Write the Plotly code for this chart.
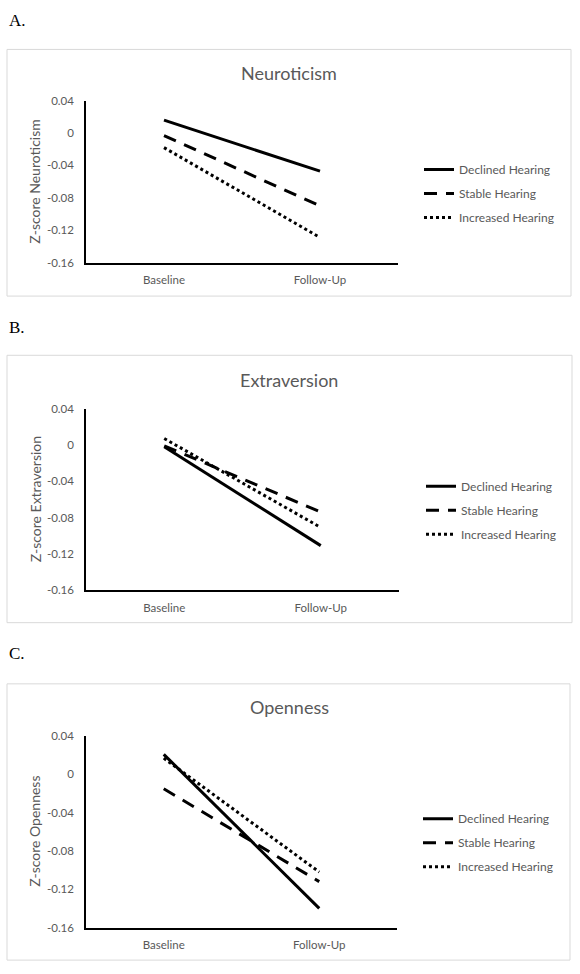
import plotly.graph_objects as go

# ---------------- data ----------------
categories = ["Baseline", "Follow-Up"]
series_names = ["Declined Hearing", "Stable Hearing", "Increased Hearing"]
y_tickvals = [0.04, 0.0, -0.04, -0.08, -0.12, -0.16]
y_ticktext = ["0.04", "0", "-0.04", "-0.08", "-0.12", "-0.16"]

neuro_declined = [0.016, -0.047]
neuro_stable = [-0.003, -0.090]
neuro_increased = [-0.018, -0.129]

extra_declined = [-0.002, -0.111]
extra_stable = [-0.001, -0.074]
extra_increased = [0.007, -0.091]

open_declined = [0.021, -0.140]
open_stable = [-0.015, -0.112]
open_increased = [0.017, -0.102]

panel_titles = ["Neuroticism", "Extraversion", "Openness"]
panel_letters = ["A.", "B.", "C."]
y_titles = ["Z-score Neuroticism", "Z-score Extraversion", "Z-score Openness"]
panel_values = [
    [neuro_declined, neuro_stable, neuro_increased],
    [extra_declined, extra_stable, extra_increased],
    [open_declined, open_stable, open_increased],
]

# ---------------- layout helpers ----------------
W, H = 580, 974
def px(x):
    return x / W
def py(y):
    return 1 - y / H

GRAY = "#595959"
FONT = "Lato"
dashes = ["solid", "13px,9px", "3px,3px"]

# pixel geometry for each panel (style, not data)
geo = [
    dict(box=(7, 43, 571, 293), plot=(86, 95, 398, 259), title_y=67, letter_y=14, legend=(419, 150)),
    dict(box=(7, 353, 572, 624), plot=(86, 407, 399, 591), title_y=378, letter_y=325, legend=(421, 471)),
    dict(box=(7, 686, 570, 966), plot=(86, 739, 397, 933), title_y=709, letter_y=655, legend=(418, 808)),
]

fig = go.Figure()
shapes = []
annotations = []

for i in range(3):
    g = geo[i]
    xa = "x" if i == 0 else f"x{i+1}"
    ya = "y" if i == 0 else f"y{i+1}"
    lg = "legend" if i == 0 else f"legend{i+1}"
    for j in range(3):
        fig.add_trace(go.Scatter(
            x=categories, y=panel_values[i][j], name=series_names[j],
            mode="lines", line=dict(color="black", width=3, dash=dashes[j]),
            xaxis=xa, yaxis=ya, legend=lg, legendgroup=f"p{i}s{j}",
            showlegend=True,
        ))
    x0, y0, x1, y1 = g["plot"]
    xkey = "xaxis" if i == 0 else f"xaxis{i+1}"
    ykey = "yaxis" if i == 0 else f"yaxis{i+1}"
    fig.update_layout(**{
        xkey: dict(domain=[px(x0), px(x1)], anchor=ya, type="category",
                   range=[-0.5, 1.5], showgrid=False, zeroline=False,
                   showline=True, linecolor="black", linewidth=1.5,
                   ticks="", tickfont=dict(family=FONT, size=11.5, color=GRAY),
                   ticklabelstandoff=6, fixedrange=True),
        ykey: dict(domain=[py(y1), py(y0)], anchor=xa, range=[-0.16, 0.04],
                   tickvals=y_tickvals, ticktext=y_ticktext,
                   showgrid=False, zeroline=False, showline=True,
                   linecolor="black", linewidth=1.5, ticks="",
                   tickfont=dict(family=FONT, size=11.5, color=GRAY),
                   ticklabelstandoff=8, fixedrange=True),
        lg: dict(x=px(g["legend"][0]), y=py(g["legend"][1]), xanchor="left", yanchor="top",
                 xref="paper", yref="paper", traceorder="grouped", tracegroupgap=5,
                 font=dict(family=FONT, size=12, color=GRAY), bgcolor="rgba(0,0,0,0)",
                 borderwidth=0),
    })
    bx0, by0, bx1, by1 = g["box"]
    shapes.append(dict(type="rect", xref="paper", yref="paper",
                       x0=px(bx0), x1=px(bx1), y0=py(by1), y1=py(by0),
                       line=dict(color="#d9d9d9", width=1), layer="below"))
    annotations.append(dict(text=panel_titles[i], x=px(289), y=py(g["title_y"]),
                            xref="paper", yref="paper", showarrow=False,
                            xanchor="center", yanchor="middle",
                            font=dict(family=FONT, size=18, color=GRAY)))
    annotations.append(dict(text=panel_letters[i], x=px(7), y=py(g["letter_y"]),
                            xref="paper", yref="paper", showarrow=False,
                            xanchor="left", yanchor="middle",
                            font=dict(family="Liberation Serif", size=17, color="black")))
    annotations.append(dict(text=y_titles[i], x=px(35), y=py((y0 + y1) / 2),
                            xref="paper", yref="paper", showarrow=False, textangle=-90,
                            xanchor="center", yanchor="middle",
                            font=dict(family=FONT, size=14, color=GRAY)))

fig.update_layout(
    width=W, height=H, margin=dict(l=0, r=0, t=0, b=0),
    paper_bgcolor="white", plot_bgcolor="white",
    shapes=shapes, annotations=annotations,
)

post = (
    "document.documentElement.style.margin='0';"
    "document.body.style.margin='0';"
    "document.body.style.overflow='hidden';"
    "document.documentElement.style.overflow='hidden';"
    "var d=document.querySelector('.plotly-graph-div');"
    "d.style.position='fixed';d.style.top='0px';d.style.left='0px';"
)
fig.write_html("out.html", config={"displayModeBar": False}, post_script=post)
